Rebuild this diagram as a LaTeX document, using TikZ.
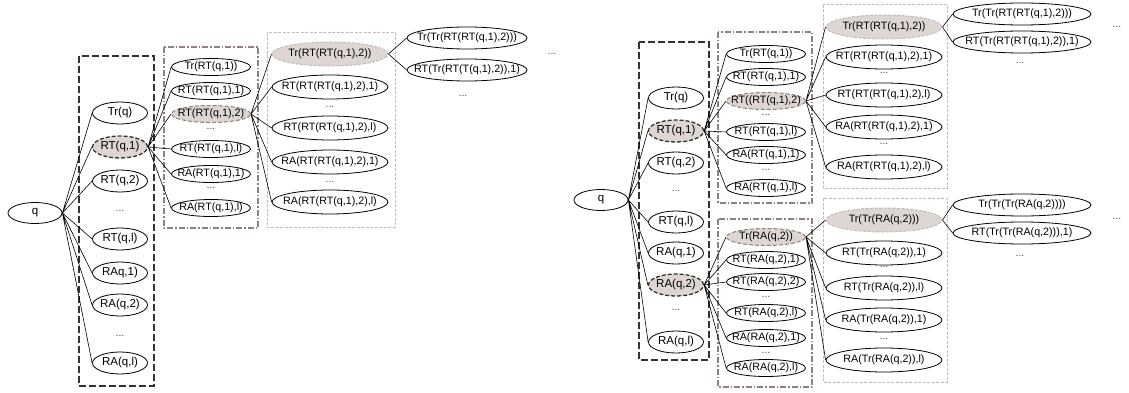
\documentclass[tikz,border=0pt]{standalone}
\usepackage{fontspec}
\setmainfont{Liberation Sans}
\usetikzlibrary{shapes.geometric}
\definecolor{frameA}{HTML}{333333}
\definecolor{frameB}{HTML}{8E807A}
\definecolor{frameC}{HTML}{C4BCB8}
\definecolor{selfill}{HTML}{DDD6D2}
\begin{document}
\begin{tikzpicture}[x=1pt, y=-1pt,
  op/.style={ellipse, draw, line width=0.8pt, inner sep=0pt, font=\fontsize{10.7}{12}\selectfont,
    execute at begin node={\hbox to 0pt\bgroup\hss}, execute at end node={\hss\egroup}},
  l0/.style={op, minimum width=54pt, minimum height=21pt, font=\fontsize{11.5}{13}\selectfont},
  l1/.style={op, minimum width=55pt, minimum height=22pt, font=\fontsize{11.5}{13}\selectfont},
  l2/.style={op, minimum width=79pt, minimum height=17pt},
  l3/.style={op, minimum width=116pt, minimum height=24pt},
  l4/.style={op, minimum width=120pt, minimum height=22pt},
  sel1/.style={fill=selfill, draw=frameA, line width=1.3pt, dash pattern=on 4pt off 2pt},
  sel2/.style={fill=selfill, draw=frameB, line width=1pt, dash pattern=on 4pt off 2pt},
  sel3/.style={fill=selfill, draw=frameC, line width=1pt, dash pattern=on 3pt off 1.5pt},
  boxa/.style={draw=frameA, line width=1.6pt, dash pattern=on 7pt off 3pt},
  boxb/.style={draw=frameB, line width=1.2pt, dash pattern=on 6pt off 2pt on 1.5pt off 2pt},
  boxc/.style={draw=frameC, line width=1pt, dash pattern=on 3pt off 1.5pt},
  dots/.style={font=\fontsize{10.5}{12}\selectfont, text=black!70, inner sep=0pt},
  edge/.style={line width=0.6pt}]
\useasboundingbox (0,0) rectangle (1129,393);

% Left tree: expansion of RT(q,1)
\begin{scope}[shift={(0,0)}]
\draw[boxa] (79,56) rectangle (154,386);
\draw[boxb] (164,47) rectangle (258,228);
\draw[boxc] (267,33) rectangle (395,227);
\node[l0] (q) at (35,213) {q};
\node[l1] (tq) at (120,113) {Tr(q)};
\node[l1, sel1] (rt1) at (120,147) {RT(q,1)};
\node[l1] (rt2) at (120,181) {RT(q,2)};
\node[dots] (d1a) at (120,211) {...};
\node[l1] (rtl) at (120,239) {RT(q,l)};
\node[l1] (ra1) at (120,273) {RAq,1)};
\node[l1] (ra2) at (120,305) {RA(q,2)};
\node[dots] (d1b) at (120,336) {...};
\node[l1] (ral) at (120,363) {RA(q,l)};
\node[l2] (a-tr) at (211,67) {Tr(RT(q,1))};
\node[l2] (a-rt1) at (211,91) {RT(RT(q,1),1)};
\node[l2, sel2] (a-rt2) at (211,114) {RT(RT(q,1),2)};
\node[dots] (d2a) at (211,129) {...};
\node[l2] (a-rtl) at (211,149) {RT(RT(q,1),l)};
\node[l2] (a-ra1) at (211,174) {RA(RT(q,1),1)};
\node[dots] (d2b) at (211,188) {...};
\node[l2] (a-ral) at (211,208) {RA(RT(q,1),l)};
\node[l3, sel3] (b-tr) at (330,54) {Tr(RT(RT(q,1),2))};
\node[l3] (b-rt1) at (330,87) {RT(RT(RT(q,1),2),1)};
\node[dots] (d3a) at (330,107) {...};
\node[l3] (b-rtl) at (330,128) {RT(RT(RT(q,1),2),l)};
\node[l3] (b-ra1) at (330,162) {RA(RT(RT(q,1),2),1)};
\node[dots] (d3b) at (330,182) {...};
\node[l3] (b-ral) at (330,202) {RA(RT(RT(q,1),2),l)};
\node[l4] (c-tr) at (467,38) {Tr(Tr(RT(RT(q,1),2)))};
\node[l4] (c-rt) at (467,70) {RT(Tr(RT(T(q,1),2)),1)};
\node[dots] (d4a) at (463,96) {...};
\node[dots] (d4b) at (552,54) {...};
\draw[edge] (q.east) -- (tq.west) (q.east) -- (rt1.west) (q.east) -- (rt2.west) (q.east) -- (rtl.west)
  (q.east) -- (ra1.west) (q.east) -- (ra2.west) (q.east) -- (ral.west);
\draw[edge] (rt1.east) -- (a-tr.west) (rt1.east) -- (a-rt1.west) (rt1.east) -- (a-rt2.west)
  (rt1.east) -- (a-rtl.west) (rt1.east) -- (a-ra1.west) (rt1.east) -- (a-ral.west);
\draw[edge] (a-rt2.east) -- (b-tr.west) (a-rt2.east) -- (b-rt1.west) (a-rt2.east) -- (b-rtl.west)
  (a-rt2.east) -- (b-ra1.west) (a-rt2.east) -- (b-ral.west);
\draw[edge] (b-tr.east) -- (c-tr.west) (b-tr.east) -- (c-rt.west);
\end{scope}

% Right tree: expansion of RT(q,1) and RA(q,2)
\begin{scope}[shift={(566,0)}, l4/.append style={minimum width=138pt}]
\draw[boxa] (73,42) rectangle (143,360);
\draw[boxb] (152,32) rectangle (246,203);
\draw[boxb] (152,219) rectangle (246,387);
\draw[boxc] (257,5) rectangle (381,188);
\draw[boxc] (257,198) rectangle (381,382);
\node[l0] (rq) at (35,200) {q};
\node[l1] (rtq) at (110,98) {Tr(q)};
\node[l1, sel1] (rrt1) at (110,131) {RT(q,1)};
\node[l1] (rrt2) at (110,163) {RT(q,2)};
\node[dots] (r1a) at (110,191) {...};
\node[l1] (rrtl) at (110,222) {RT(q,l)};
\node[l1] (rra1) at (110,253) {RA(q,1)};
\node[l1, sel1] (rra2) at (110,285) {RA(q,2)};
\node[dots] (r1b) at (110,310) {...};
\node[l1] (rral) at (110,342) {RA(q,l)};
% second level, upper and lower box
\node[l2] (ra-tr) at (200,54) {Tr(RT(q,1))};
\node[l2] (ra-rt1) at (200,77) {RT(RT(q,1),1)};
\node[l2, sel2] (ra-rt2) at (200,101) {RT((RT(q,1),2)};
\node[dots] (r2a) at (200,115) {...};
\node[l2] (ra-rtl) at (200,132) {RT(RT(q,1),l)};
\node[l2] (ra-ra1) at (200,155) {RA(RT(q,1),1)};
\node[dots] (r2b) at (200,170) {...};
\node[l2] (ra-ral) at (200,188) {RA(RT(q,1),l)};
\node[l2, sel2] (rb-tr) at (200,237) {Tr(RA(q,2))};
\node[l2] (rb-rt1) at (200,260) {RT(RA(q,2),1)};
\node[l2] (rb-rt2) at (200,282) {RT(RA(q,2),2)};
\node[dots] (r2c) at (200,297) {...};
\node[l2] (rb-rtl) at (200,313) {RT(RA(q,2),l)};
\node[l2] (rb-ra1) at (200,338) {RA(RA(q,2),1)};
\node[dots] (r2d) at (200,353) {...};
\node[l2] (rb-ral) at (200,368) {RA(RA(q,2),l)};
% third level
\node[l3, sel3] (rc-tr) at (318,27) {Tr(RT(RT(q,1),2))};
\node[l3] (rc-rt1) at (318,57) {RT(RT(RT(q,1),2),1)};
\node[dots] (r3a) at (318,73) {...};
\node[l3] (rc-rtl) at (318,95) {RT(RT(RT(q,1),2),l)};
\node[l3] (rc-ra1) at (318,127) {RA(RT(RT(q,1),2),1)};
\node[dots] (r3b) at (318,144) {...};
\node[l3] (rc-ral) at (318,167) {RA(RT(RT(q,1),2),l)};
\node[l3, sel3] (rd-tr) at (318,220) {Tr(Tr(RA(q,2)))};
\node[l3] (rd-rt1) at (318,253) {RT(Tr(RA(q,2)),1)};
\node[dots] (r3c) at (318,267) {...};
\node[l3] (rd-rtl) at (318,288) {RT(Tr(RA(q,2)),l)};
\node[l3] (rd-ra1) at (318,320) {RA(Tr(RA(q,2)),1)};
\node[dots] (r3d) at (318,339) {...};
\node[l3] (rd-ral) at (318,360) {RA(Tr(RA(q,2)),l)};
% fourth level
\node[l4] (re-tr) at (456,14) {Tr(Tr(RT(RT(q,1),2)))};
\node[l4] (re-rt) at (456,42) {RT(Tr(RT(RT(q,1),2)),1)};
\node[dots] (r4a) at (454,63) {...};
\node[dots] (r4b) at (551,27) {...};
\node[l4] (rf-tr) at (456,205) {Tr(Tr(Tr(RA(q,2))))};
\node[l4] (rf-rt) at (456,233) {RT(Tr(Tr(RA(q,2))),1)};
\node[dots] (r4c) at (454,256) {...};
\node[dots] (r4d) at (551,219) {...};
\draw[edge] (rq.east) -- (rtq.west) (rq.east) -- (rrt1.west) (rq.east) -- (rrt2.west) (rq.east) -- (rrtl.west)
  (rq.east) -- (rra1.west) (rq.east) -- (rra2.west) (rq.east) -- (rral.west);
\draw[edge] (rrt1.east) -- (ra-tr.west) (rrt1.east) -- (ra-rt1.west) (rrt1.east) -- (ra-rt2.west)
  (rrt1.east) -- (ra-rtl.west) (rrt1.east) -- (ra-ra1.west) (rrt1.east) -- (ra-ral.west);
\draw[edge] (rra2.east) -- (rb-tr.west) (rra2.east) -- (rb-rt1.west) (rra2.east) -- (rb-rt2.west)
  (rra2.east) -- (rb-rtl.west) (rra2.east) -- (rb-ra1.west) (rra2.east) -- (rb-ral.west);
\draw[edge] (ra-rt2.east) -- (rc-tr.west) (ra-rt2.east) -- (rc-rt1.west) (ra-rt2.east) -- (rc-rtl.west)
  (ra-rt2.east) -- (rc-ra1.west) (ra-rt2.east) -- (rc-ral.west);
\draw[edge] (rb-tr.east) -- (rd-tr.west) (rb-tr.east) -- (rd-rt1.west) (rb-tr.east) -- (rd-rtl.west)
  (rb-tr.east) -- (rd-ra1.west) (rb-tr.east) -- (rd-ral.west);
\draw[edge] (rc-tr.east) -- (re-tr.west) (rc-tr.east) -- (re-rt.west);
\draw[edge] (rd-tr.east) -- (rf-tr.west) (rd-tr.east) -- (rf-rt.west);
\end{scope}
\end{tikzpicture}
\end{document}
